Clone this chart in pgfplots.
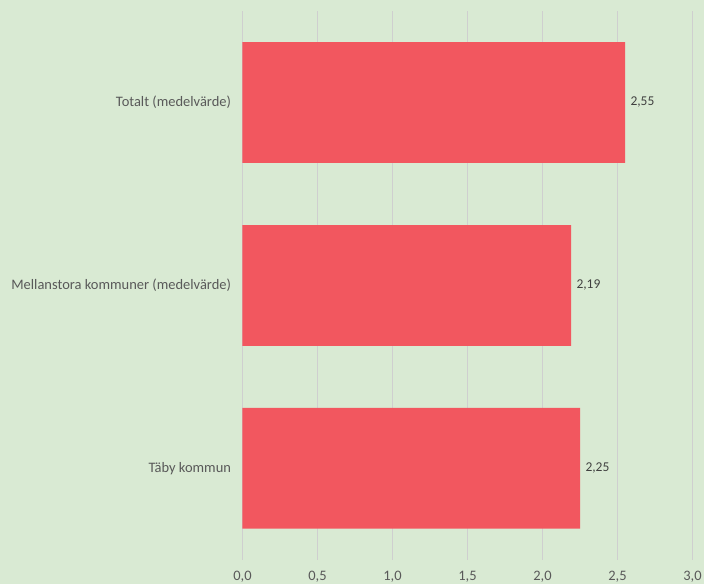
\documentclass[border=0pt]{standalone}
\usepackage{pgfplots}
\pgfplotsset{compat=1.18}
\usepackage{fontspec}
\setmainfont{Carlito}
\definecolor{bg}{HTML}{D9EAD3}
\definecolor{barred}{HTML}{F2575F}
\definecolor{txt}{HTML}{595959}
\definecolor{gridc}{HTML}{CFCFCF}
\begin{document}
\begin{tikzpicture}
\fill[bg] (-243pt,-24pt) rectangle (462pt,561pt);
\begin{axis}[
    at={(0,0)}, anchor=south west,
    scale only axis,
    width=451pt, height=550pt,
    xbar, bar width=121pt,
    xmin=0, xmax=3,
    ymin=-0.5, ymax=2.5,
    xtick={0,0.5,...,3},
    ytick={0,1,2},
    yticklabels={Täby kommun, Mellanstora kommuner (medelvärde), Totalt (medelvärde)},
    axis line style={draw=none},
    major tick length=0pt,
    xmajorgrids, grid style={gridc, line width=0.8pt},
    tick label style={font=\fontsize{14.5}{17}\selectfont, text=txt},
    /pgf/number format/assume math mode=true,
    xticklabel style={/pgf/number format/.cd, fixed, fixed zerofill, precision=1, use comma},
    xticklabel shift=8pt,
    yticklabel style={xshift=-8pt},
    nodes near coords,
    nodes near coords style={font=\fontsize{13.5}{16}\selectfont, text=black!75, xshift=2pt,
        /pgf/number format/.cd, fixed, fixed zerofill, precision=2, use comma, assume math mode=true},
]
\addplot[fill=barred, draw=none] coordinates {
    (2.25,0)
    (2.19,1)
    (2.55,2)
};
\end{axis}
\end{tikzpicture}
\end{document}
